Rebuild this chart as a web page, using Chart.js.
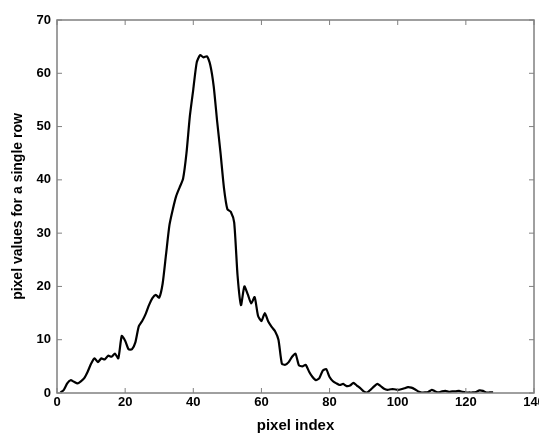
<!DOCTYPE html>
<html>
<head>
<meta charset="utf-8">
<script src="https://cdn.jsdelivr.net/npm/chart.js@4"></script>
<style>
  html, body { margin: 0; padding: 0; background: #fff; }
  #wrap { width: 539px; height: 436px; }
</style>
</head>
<body>
<div id="wrap"><canvas id="chart"></canvas></div>
<script>
// pixel index (1..128) and pixel values
const pixelIndex = Array.from({ length: 128 }, (_, i) => i + 1);
const pixelValues = [
    0.1, 0.6, 1.8, 2.4, 2.1, 1.8, 2.2, 2.8, 4.0, 5.5,
    6.5, 5.8, 6.5, 6.3, 7.0, 6.8, 7.4, 6.5, 10.7, 9.8,
    8.2, 8.2, 9.5, 12.5, 13.5, 14.8, 16.5, 17.8, 18.4, 17.9,
    20.5, 26.0, 31.5, 34.5, 37.0, 38.6, 40.2, 45.0, 52.0, 57.0,
    62.0, 63.4, 63.0, 63.2, 61.5, 57.5, 51.0, 45.0, 38.5, 34.5,
    34.0, 32.0, 22.0, 16.5, 20.0, 18.5, 16.8, 18.0, 14.5, 13.5,
    15.0, 13.4, 12.4, 11.6, 10.0, 5.5, 5.3, 5.8, 6.8, 7.4,
    5.2, 5.0, 5.3, 4.0, 3.0, 2.4, 2.8, 4.2, 4.5, 3.0,
    2.2, 1.8, 1.5, 1.7, 1.3, 1.4, 1.9, 1.4, 0.9, 0.3,
    0.1, 0.6, 1.2, 1.7, 1.3, 0.8, 0.6, 0.7, 0.7, 0.6,
    0.7, 0.9, 1.1, 1.0, 0.7, 0.3, 0.1, 0.1, 0.2, 0.6,
    0.3, 0.1, 0.3, 0.4, 0.2, 0.3, 0.3, 0.4, 0.2, 0.1,
    0.1, 0.1, 0.2, 0.5, 0.4, 0.1, 0.1, 0.1
];
const xTicks = [0, 20, 40, 60, 80, 100, 120, 140];
const yTicks = [0, 10, 20, 30, 40, 50, 60, 70];

const axisColor = '#808080';
const family = 'Liberation Sans, Arial, sans-serif';
const tickFont = { family: family, size: 13, weight: 'bold' };

// matlab style box with inward ticks
const boxTicks = {
    id: 'boxTicks',
    afterDraw(chart) {
        const { ctx, chartArea: a, scales } = chart;
        ctx.save();
        ctx.strokeStyle = axisColor;
        ctx.lineWidth = 1.5;
        ctx.strokeRect(a.left, a.top, a.right - a.left, a.bottom - a.top);
        ctx.lineWidth = 1;
        xTicks.forEach(v => {
            const x = scales.x.getPixelForValue(v);
            ctx.beginPath();
            ctx.moveTo(x, a.bottom); ctx.lineTo(x, a.bottom - 5);
            ctx.moveTo(x, a.top); ctx.lineTo(x, a.top + 5);
            ctx.stroke();
        });
        yTicks.forEach(v => {
            const y = scales.y.getPixelForValue(v);
            ctx.beginPath();
            ctx.moveTo(a.left, y); ctx.lineTo(a.left + 5, y);
            ctx.moveTo(a.right, y); ctx.lineTo(a.right - 5, y);
            ctx.stroke();
        });
        ctx.restore();
    }
};

new Chart(document.getElementById('chart'), {
    type: 'line',
    data: {
        labels: pixelIndex,
        datasets: [{
            data: pixelIndex.map((x, i) => ({ x: x, y: pixelValues[i] })),
            borderColor: '#000',
            borderWidth: 2.2,
            pointRadius: 0,
            tension: 0.2,
            fill: false
        }]
    },
    options: {
        responsive: true,
        maintainAspectRatio: false,
        animation: false,
        layout: { padding: { top: 20, right: 5, left: 0, bottom: 0 } },
        plugins: { legend: { display: false }, tooltip: { enabled: false } },
        scales: {
            x: {
                type: 'linear',
                min: 0,
                max: 140,
                afterFit: s => { s.height = 43; s.paddingLeft = 0; s.paddingRight = 0; },
                afterBuildTicks: s => { s.ticks = xTicks.map(v => ({ value: v })); },
                grid: { display: false, drawTicks: false },
                border: { display: false },
                ticks: { color: '#000', font: tickFont, padding: 2, maxRotation: 0, autoSkip: false },
                title: { display: true, text: 'pixel index', color: '#000', font: { family: family, size: 15, weight: 'bold' }, padding: { top: 0, bottom: 1 } }
            },
            y: {
                min: 0,
                max: 70,
                afterFit: s => { s.width = 57; s.paddingTop = 0; s.paddingBottom = 0; },
                afterBuildTicks: s => { s.ticks = yTicks.map(v => ({ value: v })); },
                grid: { display: false, drawTicks: false },
                border: { display: false },
                ticks: { color: '#000', font: tickFont, padding: 6 },
                title: { display: true, text: 'pixel values for a single row', color: '#000', font: { family: family, size: 14, weight: 'bold' }, padding: { top: 10, bottom: 0 } }
            }
        }
    },
    plugins: [boxTicks]
});
</script>
</body>
</html>
